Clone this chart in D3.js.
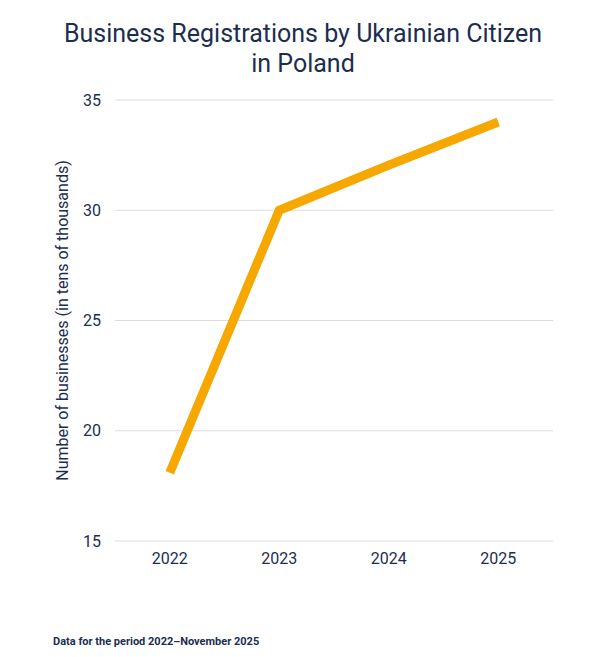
<!DOCTYPE html>
<html>
<head>
<meta charset="utf-8">
<script src="https://cdn.jsdelivr.net/npm/d3@7"></script>
<style>
  body { margin: 0; background: #fff; }
  text { font-family: Roboto, "Noto Sans", sans-serif; }
</style>
</head>
<body>
<svg id="chart"></svg>
<script>
const years = ["2022", "2023", "2024", "2025"];
const businesses = [18.1, 30, 32.05, 34];
const yTicks = [15, 20, 25, 30, 35];

const width = 608;
const height = 657;
const margin = { top: 100, right: 55, bottom: 116, left: 115 };
const navy = "#1c2e4f";

const svg = d3.select("#chart").attr("width", width).attr("height", height);

const x = d3.scaleBand()
  .domain(years)
  .range([margin.left, width - margin.right])
  .padding(0);

const y = d3.scaleLinear()
  .domain([15, 35])
  .range([height - margin.bottom, margin.top]);

// gridlines
svg.append("g")
  .selectAll("line")
  .data(yTicks)
  .enter()
  .append("line")
  .attr("x1", margin.left)
  .attr("x2", width - margin.right)
  .attr("y1", (d) => y(d))
  .attr("y2", (d) => y(d))
  .attr("stroke", "#dcdcdc")
  .attr("stroke-width", 1);

// y tick labels
svg.append("g")
  .selectAll("text")
  .data(yTicks)
  .enter()
  .append("text")
  .attr("x", margin.left - 14)
  .attr("y", (d) => y(d))
  .attr("dy", "0.35em")
  .attr("text-anchor", "end")
  .attr("fill", navy)
  .style("font-size", "16px")
  .text((d) => d);

// x tick labels
svg.append("g")
  .selectAll("text")
  .data(years)
  .enter()
  .append("text")
  .attr("x", (d) => x(d) + x.bandwidth() / 2)
  .attr("y", height - margin.bottom + 23)
  .attr("text-anchor", "middle")
  .attr("fill", navy)
  .style("font-size", "16px")
  .text((d) => d);

const line = d3.line()
  .x((d, i) => x(years[i]) + x.bandwidth() / 2)
  .y((d) => y(d));

svg.append("path")
  .datum(businesses)
  .attr("fill", "none")
  .attr("stroke", "#f6a800")
  .attr("stroke-width", 9)
  .attr("stroke-linejoin", "miter")
  .attr("stroke-linecap", "butt")
  .attr("d", line);

// y axis title
svg.append("text")
  .attr("transform", `translate(68,${(y(15) + y(35)) / 2}) rotate(-90)`)
  .attr("text-anchor", "middle")
  .attr("fill", navy)
  .style("font-size", "16px")
  .text("Number of businesses (in tens of thousands)");

// title
const title = svg.append("text")
  .attr("text-anchor", "middle")
  .attr("fill", navy)
  .style("font-size", "25px");
title.append("tspan").attr("x", 303).attr("y", 42).text("Business Registrations by Ukrainian Citizen");
title.append("tspan").attr("x", 303).attr("y", 72).text("in Poland");

// footnote
svg.append("text")
  .attr("x", 53)
  .attr("y", 645)
  .attr("fill", navy)
  .style("font-size", "11px")
  .style("font-weight", "bold")
  .text("Data for the period 2022\u2013November 2025");
</script>
</body>
</html>
